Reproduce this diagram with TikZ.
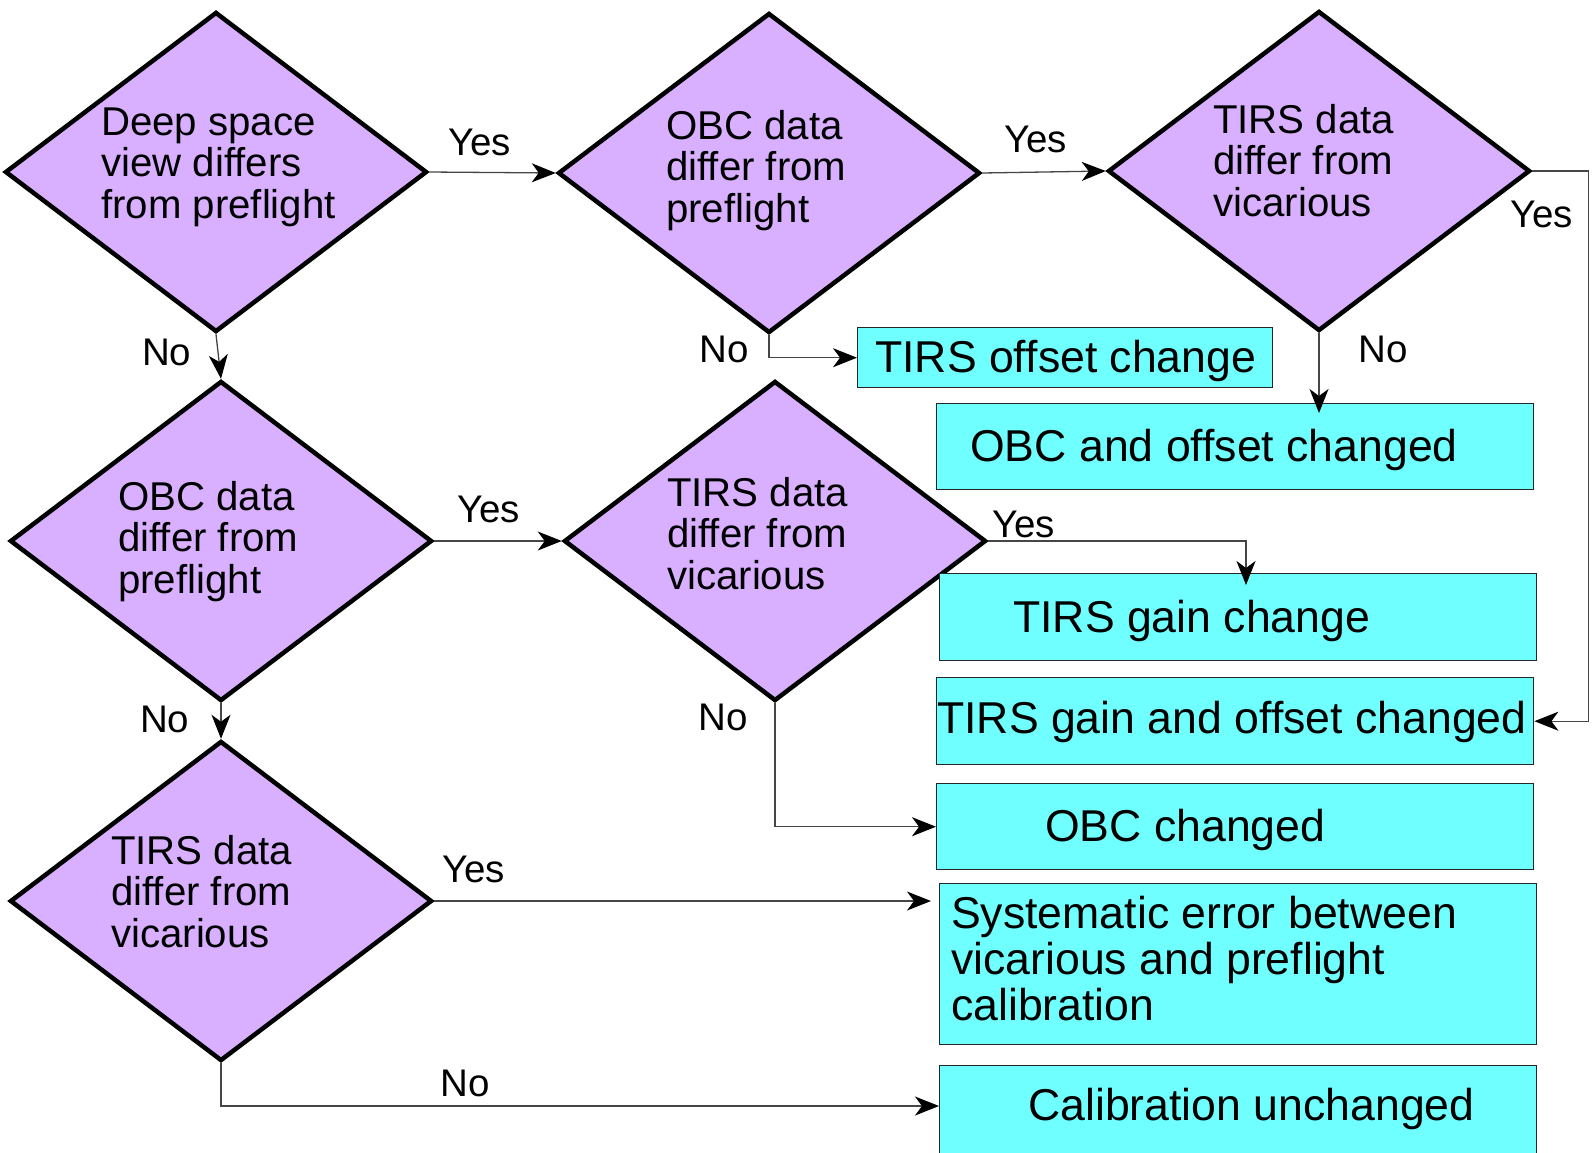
\documentclass[tikz,border=0pt]{standalone}
\usepackage{fontspec}
\setmainfont{Liberation Sans}
\usetikzlibrary{shapes.geometric,arrows.meta,calc}
\definecolor{lav}{RGB}{216,176,255}
\definecolor{cyanbox}{RGB}{112,255,255}
\definecolor{connc}{RGB}{70,70,70}
\begin{document}
\begin{tikzpicture}[x=1pt,y=-1pt,
  dec/.style={diamond, draw=black, line width=4.5pt, fill=lav, inner sep=0pt, minimum width=422pt, minimum height=320pt},
  res/.style={rectangle, draw=black!85, line width=1.4pt, fill=cyanbox, inner sep=0pt, anchor=north west},
  dtext/.style={anchor=base west, inner sep=0pt, align=left, font=\fontsize{40.2}{41.5}\selectfont},
  btext/.style={anchor=base west, inner sep=0pt, align=left, font=\fontsize{44.6}{46}\selectfont},
  lab/.style={anchor=base west, inner sep=0pt, font=\fontsize{38.5}{40}\selectfont},
  conn/.style={draw=connc, line width=1.3pt, -{Stealth[length=24pt,width=19pt,inset=7pt,color=black]}},
]
\useasboundingbox (0,0) rectangle (1595,1152);
\clip (0,0) rectangle (1595,1152);

% decisions
\node[dec] (A) at (216,172) {};
\node[dec] (B) at (769,173) {};
\node[dec] (C) at (1319,171) {};
\node[dec] (D) at (221,541) {};
\node[dec] (E) at (775,541) {};
\node[dec] (F) at (221,901) {};

% results
\node[res, minimum width=415pt, minimum height=60pt] (off) at (857,327) {};
\node[res, minimum width=597pt, minimum height=86pt] (obcoff) at (936,403) {};
\node[res, minimum width=597pt, minimum height=87pt] (gain) at (939,573) {};
\node[res, minimum width=597pt, minimum height=87pt] (gainoff) at (936,677) {};
\node[res, minimum width=597pt, minimum height=86pt] (obc) at (936,783) {};
\node[res, minimum width=597pt, minimum height=161pt] (sys) at (939,883) {};
\node[res, minimum width=597pt, minimum height=130pt] (cal) at (939,1065) {};

% decision texts (anchored at the baseline of the last line)
\node[dtext] (tA) at (101,218) {Deep space\\view differs\\from preflight};
\node[dtext] (tB) at (666,222) {OBC data\\differ from\\preflight};
\node[dtext] (tC) at (1213,216) {TIRS data\\differ from\\vicarious};
\node[dtext] (tD) at (118,593) {OBC data\\differ from\\preflight};
\node[dtext] (tE) at (667,589) {TIRS data\\differ from\\vicarious};
\node[dtext] (tF) at (111,947) {TIRS data\\differ from\\vicarious};

% result texts
\node[btext] (toff) at (875,372) {TIRS offset change};
\node[btext] (tobcoff) at (970,461) {OBC and offset changed};
\node[btext] (tgain) at (1013,632) {TIRS gain change};
\node[btext] (tgainoff) at (937,733) {TIRS gain and offset changed};
\node[btext] (tobc) at (1045,841) {OBC changed};
\node[btext] (tsys) at (951,1020) {Systematic error between\\vicarious and preflight\\calibration};
\node[btext] (tcal) at (1028,1120) {Calibration unchanged};

% labels
\node[lab] (y1) at (448,155) {Yes};
\node[lab] (n1) at (142,365) {No};
\node[lab] (y2) at (1004,152) {Yes};
\node[lab] (n2) at (699,362) {No};
\node[lab] (y3) at (1510,227) {Yes};
\node[lab] (n3) at (1358,362) {No};
\node[lab] (y4) at (457,522) {Yes};
\node[lab] (n4) at (140,732) {No};
\node[lab] (y5) at (992,537) {Yes};
\node[lab] (n5) at (698,730) {No};
\node[lab] (y6) at (442,882) {Yes};
\node[lab] (n6) at (440,1096) {No};

% connectors
\draw[conn] (A.east) -- (B.west);
\draw[conn] (A.south) -- (D.north);
\draw[conn] (B.east) -- (C.west);
\draw[conn] (B.south) |- (off.west);
\draw[conn] (C.south) -- ($(C.south |- obcoff.north)+(0,10)$);
\draw[conn] (C.east) -- ++(56,0) |- (gainoff.east);
\draw[conn] (D.east) -- (E.west);
\draw[conn] (D.south) -- (F.north);
\draw[conn] (E.east) -| ($(gain.north west)+(307,12)$);
\draw[conn] (E.south) |- (obc.west);
\draw[conn] (F.east) -- ($(F.east -| sys.west)+(-8,0)$);
\draw[conn] (F.south) |- ($(cal.north west)+(0,41)$);
\end{tikzpicture}
\end{document}
